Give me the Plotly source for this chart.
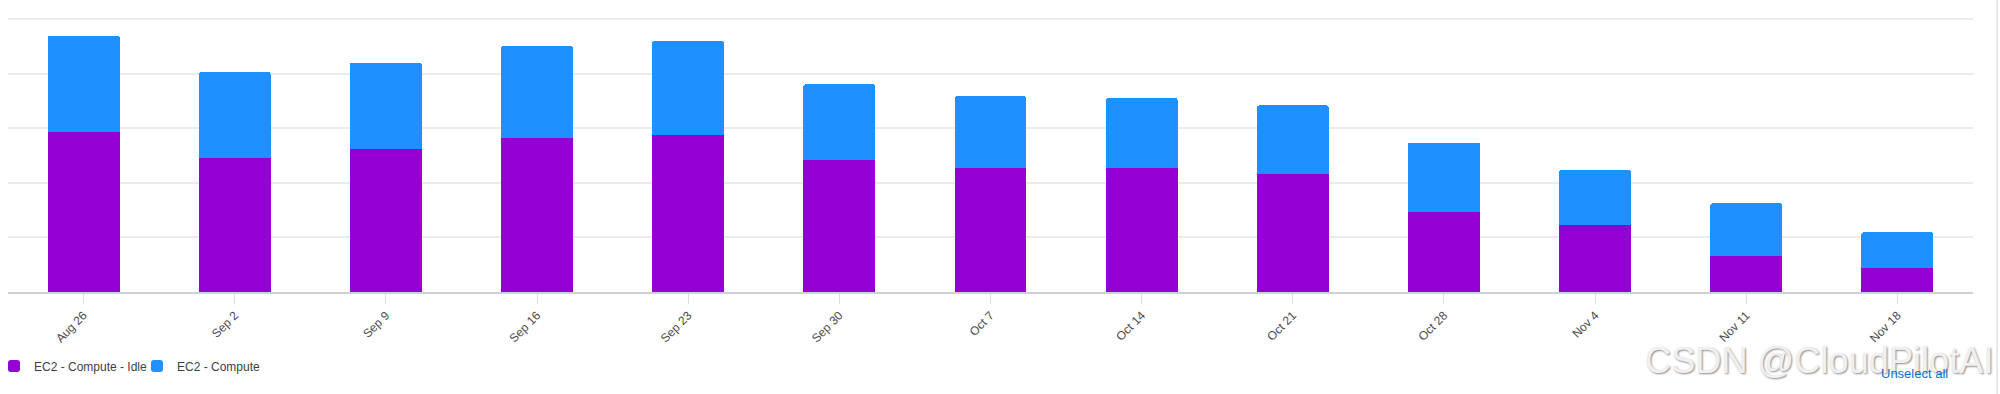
import plotly.graph_objects as go

weeks = ["Aug 26", "Sep 2", "Sep 9", "Sep 16", "Sep 23", "Sep 30", "Oct 7",
         "Oct 14", "Oct 21", "Oct 28", "Nov 4", "Nov 11", "Nov 18"]
idle_cost = [2925, 2454, 2620, 2826, 2875, 2412, 2277, 2277, 2161, 1460, 1233, 654, 440]
compute_cost = [1775, 1576, 1580, 1679, 1722, 1392, 1307, 1276, 1258, 1275, 1001, 970, 653]
grid_values = [1000, 2000, 3000, 4000, 5000]

W, H = 2000, 394
BASE = 292
ML, MR, MT, MB = 8, 27, 16.8, H - BASE
PW, PH = W - ML - MR, H - MT - MB

def px(x):
    return (x - ML) / PW

def py(y):
    return (BASE - y) / PH

fig = go.Figure()
fig.add_trace(go.Bar(x=weeks, y=idle_cost, name="EC2 - Compute - Idle",
                     marker=dict(color="#9400d3", line=dict(width=0))))
fig.add_trace(go.Bar(x=weeks, y=compute_cost, name="EC2 - Compute",
                     marker=dict(color="#1e90ff", line=dict(width=0))))

fig.update_layout(
    width=W, height=H,
    margin=dict(l=ML, r=MR, t=MT, b=MB, autoexpand=False),
    barmode="stack", bargap=0.524, barcornerradius=2,
    plot_bgcolor="white", paper_bgcolor="white",
    font=dict(family="Liberation Sans, Arial, sans-serif", color="#444"),
    showlegend=True,
    legend=dict(orientation="h", xref="paper", yref="paper",
                x=px(-6), xanchor="left", y=py(366), yanchor="middle",
                entrywidth=98, entrywidthmode="pixels",
                font=dict(size=12, color="#3d4147"), traceorder="normal",
                bgcolor="rgba(0,0,0,0)", itemclick=False),
    xaxis=dict(showline=True, linecolor="#cdd0e0", linewidth=1.5, automargin=False,
               ticks="outside", ticklen=10, tickcolor="#dddddd", tickwidth=1,
               tickangle=-45, tickfont=dict(size=12, color="#4a4a4a"),
               showgrid=False, fixedrange=True),
    yaxis=dict(range=[0, 5040], tickvals=grid_values,
               showticklabels=False, automargin=False, fixedrange=True,
               showgrid=True, gridcolor="#ebebeb", gridwidth=2,
               zeroline=False, showline=False, ticks=""),
    annotations=[
        dict(text="CSDN @CloudPilotAI", xref="paper", yref="paper",
             x=px(1643), y=py(361), xanchor="left", yanchor="middle", showarrow=False,
             font=dict(family="Liberation Sans, Arial, sans-serif", size=36.2, color="#f0f0f0",
                       shadow="1px 1px 2px #8a8a8a")),
        dict(text="Unselect all", xref="paper", yref="paper",
             x=px(1879), y=py(374), xanchor="left", yanchor="middle", showarrow=False,
             font=dict(family="Liberation Sans, Arial, sans-serif", size=13, color="#0a6fcf")),
    ],
    shapes=[
        dict(type="line", xref="paper", yref="paper", x0=px(1997), x1=px(1997),
             y0=py(394), y1=py(0), line=dict(color="#e2e2e2", width=1.5)),
    ],
)

fig.write_html("out.html", config={"displayModeBar": False},
               post_script="document.body.style.margin='0';document.body.style.overflow='hidden';")
